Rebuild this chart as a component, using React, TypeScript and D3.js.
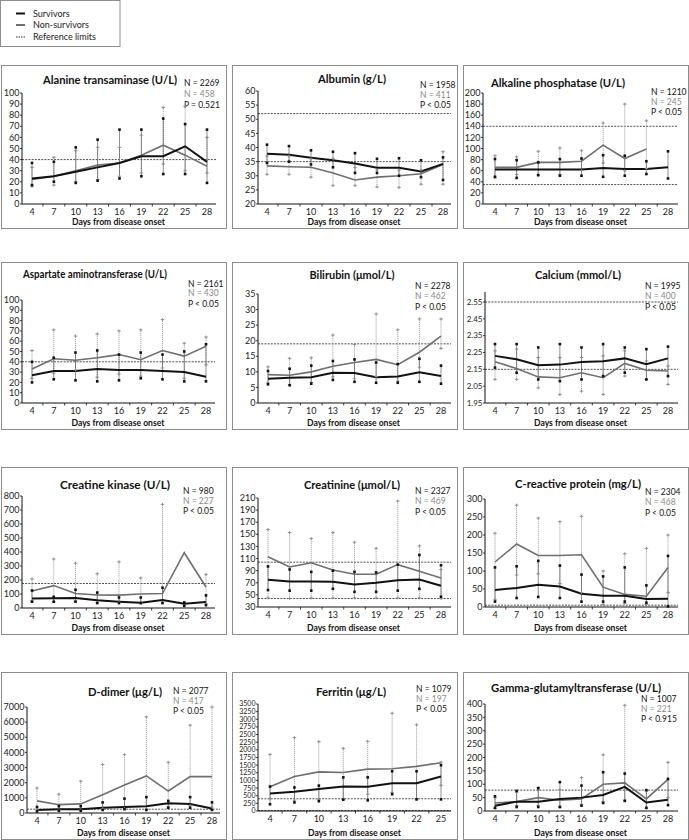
import React from 'react';
import * as d3 from 'd3';

// ---------------- data ----------------
const DAYS = [4, 7, 10, 13, 16, 19, 22, 25, 28];
const DAYS_FERRITIN = [4, 7, 10, 13, 16, 19, 22, 25];

const TITLES = [
  'Alanine transaminase (U/L)', 'Albumin (g/L)', 'Alkaline phosphatase (U/L)',
  'Aspartate aminotransferase (U/L)', 'Bilirubin (μmol/L)', 'Calcium (mmol/L)',
  'Creatine kinase (U/L)', 'Creatinine (μmol/L)', 'C-reactive protein (mg/L)',
  'D-dimer (μg/L)', 'Ferritin (μg/L)', 'Gamma-glutamyltransferase (U/L)',
];
const N_SURVIVORS = [2269, 1958, 1210, 2161, 2278, 1995, 980, 2327, 2304, 2077, 1079, 1007];
const N_NONSURVIVORS = [458, 411, 245, 430, 462, 400, 227, 469, 468, 417, 197, 221];
const P_LABELS = ['P = 0.521', 'P < 0.05', 'P < 0.05', 'P < 0.05', 'P < 0.05', 'P < 0.05',
  'P < 0.05', 'P < 0.05', 'P < 0.05', 'P < 0.05', 'P < 0.05', 'P < 0.915'];
const REFERENCE_LIMITS = [[40], [52, 35], [140, 35], [40], [19], [2.55, 2.15], [175], [104, 44], [5], [250], [400, 15], [78]];

const Y_TICKS = [
  [0, 10, 20, 30, 40, 50, 60, 70, 80, 90, 100],
  [20, 25, 30, 35, 40, 45, 50, 55, 60],
  [0, 20, 40, 60, 80, 100, 120, 140, 160, 180, 200],
  [0, 10, 20, 30, 40, 50, 60, 70, 80, 90, 100],
  [0, 5, 10, 15, 20, 25, 30, 35],
  [1.95, 2.05, 2.15, 2.25, 2.35, 2.45, 2.55],
  [0, 100, 200, 300, 400, 500, 600, 700, 800],
  [30, 50, 70, 90, 110, 130, 150, 170, 190, 210],
  [0, 50, 100, 150, 200, 250, 300],
  [0, 1000, 2000, 3000, 4000, 5000, 6000, 7000],
  [0, 250, 500, 750, 1000, 1250, 1500, 1750, 2000, 2250, 2500, 2750, 3000, 3250, 3500],
  [0, 50, 100, 150, 200, 250, 300, 350, 400],
];

// [median, lower, upper]
const alanineSurv = [[23, 17, 37], [25, 20, 38], [29, 19, 51], [33, 21, 58], [37, 23, 67], [43, 25, 67], [43, 27, 77], [52, 27, 72], [38, 19, 67]];
const alanineNon = [[22, 16, 33], [25, 17, 42], [30, 20, 48], [35, 22, 51], [37, 25, 51], [44, 28, 62], [53, 36, 87], [44, 30, 88], [34, 28, 60]];
const albuminSurv = [[37.8, 34.5, 41], [37.4, 35, 40.5], [36.4, 34, 39], [35.5, 33, 38.5], [34.3, 31, 38], [32.8, 31, 36], [32.8, 30, 36.2], [31.5, 29.5, 35.5], [34.2, 28.5, 36.5]];
const albuminNon = [[33.5, 30.5, 37], [33.2, 30.5, 37], [33, 29.5, 36], [31, 26.5, 36], [28.5, 26.5, 33], [29.5, 26, 32], [30, 25.8, 32], [30.7, 27, 32], [34, 27, 38.5]];
const alpSurv = [[62, 49, 81], [62, 47, 79], [62, 52, 75], [62, 51, 81], [62, 51, 82], [65, 49, 88], [63, 51, 87], [63, 54, 77], [66, 46, 95]];
const alpNon = [[66, 47, 87], [66, 53, 85], [75, 52, 95], [75, 53, 101], [77, 60, 96], [106, 74, 146], [82, 60, 180], [99, 64, 150], null];
const astSurv = [[27, 20, 40], [31, 23, 44], [31, 22, 49], [33, 21, 51], [32, 22, 47], [32, 24, 49], [31, 23, 47], [30, 21, 50], [25.5, 21, 57]];
const astNon = [[33, 24, 51], [43, 29, 71], [41.5, 32, 65], [44, 25, 67], [47, 28, 70], [42, 26, 71], [51, 34, 81], [45.5, 24, 58], [55, 37, 64]];
const bilirubinSurv = [[7.8, 6, 10.3], [8.1, 5.7, 11], [8.3, 6.2, 12], [9.7, 7.4, 13.5], [9.6, 6.8, 14], [8.3, 6.5, 13], [8.5, 6.5, 12.5], [9.9, 6.8, 14.2], [8.7, 6.2, 12]];
const bilirubinNon = [[9.1, 6.5, 11.6], [8.9, 5.8, 14.3], [10, 6.6, 14.5], [11.8, 8.4, 21.8], [13, 7.8, 18.8], [14, 8.5, 28.6], [12.3, 7, 23.5], [16.3, 11.5, 27], [21.5, 17.5, 27]];
const calciumSurv = [[2.23, 2.16, 2.3], [2.21, 2.13, 2.3], [2.175, 2.09, 2.28], [2.178, 2.08, 2.3], [2.193, 2.09, 2.28], [2.198, 2.11, 2.3], [2.215, 2.13, 2.28], [2.18, 2.09, 2.27], [2.215, 2.11, 2.285]];
const calciumNon = [[2.195, 2.09, 2.26], [2.155, 2.09, 2.27], [2.105, 2.04, 2.22], [2.1, 2.0, 2.22], [2.13, 2.02, 2.22], [2.1, 2.0, 2.23], [2.185, 2.11, 2.26], [2.145, 2.09, 2.2], [2.14, 2.06, 2.17]];
const ckSurv = [[68, 45, 125], [70, 45, 80], [72, 45, 130], [55, 35, 110], [45, 35, 75], [38, 35, 75], [57, 35, 145], [30, 15, 40], [42, 20, 90]];
const ckNon = [[122, 50, 208], [160, 45, 350], [103, 50, 320], [93, 40, 245], [92, 40, 330], [100, 40, 215], [103, 40, 740], [395, null, null], [150, 30, 240]];
const creatinineSurv = [[75, 58, 97], [72, 57, 92], [72, 57, 88], [71.5, 60, 90], [67, 55, 88], [70, 55, 87], [74, 57, 100], [75.5, 60, 116], [65, 47, 99]];
const creatinineNon = [[113, 45, 158], [96, 44, 153], [103, 45, 143], [91, 45, 153], [84, 45, 137], [84, 45, 127], [100, 45, 205], [89, 45, 131], [78, 44, 92]];
const crpSurv = [[47, 15, 110], [53, 25, 113], [62, 28, 128], [57, 25, 115], [37, 15, 90], [31, 15, 85], [31, 15, 110], [22, 12, 60], [23, 2, 142]];
const crpNon = [[125, 20, 205], [175, 89, 283], [143, 92, 247], [143, 65, 237], [145, 40, 252], [55, 7, 100], [35, 10, 148], [30, 7, 163], [110, 40, 200]];
const ddimerSurv = [[200, 100, 400], [250, 150, 450], [250, 150, 450], [350, 200, 700], [400, 250, 950], [450, 200, 1050], [650, 350, 800], [600, 350, 1050], [300, 200, 700]];
const ddimerNon = [[800, 200, 1650], [550, 200, 1250], [600, 200, 2100], [1200, 300, 3200], [1850, 300, 3850], [2450, 250, 6350], [1450, 400, 3350], [2400, 500, 5800], [2400, 400, 7000]];
const ferritinSurv = [[570, 220, 800], [630, 280, 770], [720, 320, 830], [800, 370, 1100], [790, 350, 1100], [910, 550, 1300], [910, 380, 1300], [1130, 380, 1500]];
const ferritinNon = [[790, 400, 1850], [1130, 350, 2400], [1280, 370, 2270], [1260, 380, 2050], [1370, 550, 2280], [1380, 600, 3200], [1460, 400, 2820], [1580, 840, 1600]];
const ggtSurv = [[20, 12, 55], [35, 15, 75], [35, 15, 85], [45, 15, 108], [50, 20, 95], [60, 30, 145], [90, 38, 140], [32, 12, 78], [42, 22, 120]];
const ggtNon = [[30, 10, 50], [35, 20, 70], [50, 20, 88], [40, 15, 80], [45, 25, 125], [100, 35, 210], [105, 40, 395], [45, 10, 75], [118, 50, 182]];

const SURVIVOR_SERIES = [alanineSurv, albuminSurv, alpSurv, astSurv, bilirubinSurv, calciumSurv, ckSurv, creatinineSurv, crpSurv, ddimerSurv, ferritinSurv, ggtSurv];
const NONSURVIVOR_SERIES = [alanineNon, albuminNon, alpNon, astNon, bilirubinNon, calciumNon, ckNon, creatinineNon, crpNon, ddimerNon, ferritinNon, ggtNon];

// ---------------- layout ----------------
const BOX_X = [1, 232, 463];
const BOX_W = 225;
const ROW_Y = [65, 262, 467, 672];
const ROW_H = [163, 167, 167, 167];

type Geom = {
  ax: number; x0: number; x1: number; xEnd: number; yLo: number; yHi: number; vTop?: number;
  tx: number; ty: number; tw: number; nx: number; ny: number[]; fs: number;
};
const GEOM: Geom[] = [
  { ax: 22, x0: 32, x1: 207, xEnd: 216, yLo: 204, yHi: 93, tx: 110, ty: 84, tw: 134, nx: 184, ny: [86, 96.5, 107.5], fs: 9 },
  { ax: 258, x0: 267, x1: 443, xEnd: 451, yLo: 204, yHi: 91, tx: 352, ty: 83, tw: 68, nx: 420, ny: [87.5, 97.5, 108], fs: 9 },
  { ax: 483, x0: 495, x1: 668, xEnd: 678, yLo: 204, yHi: 93, tx: 558, ty: 86.5, tw: 134, nx: 651, ny: [94.5, 105, 115], fs: 9 },
  { ax: 22, x0: 32, x1: 206, xEnd: 215, yLo: 403, yHi: 300, tx: 95, ty: 278, tw: 144, nx: 188, ny: [286.5, 296, 306.5], fs: 9 },
  { ax: 258, x0: 268, x1: 441, xEnd: 451, yLo: 403, yHi: 294, tx: 352, ty: 279, tw: 85, nx: 415, ny: [288.5, 299, 310], fs: 9 },
  { ax: 485, x0: 495, x1: 668, xEnd: 678, yLo: 403, yHi: 302, vTop: 2.61, tx: 578, ty: 279, tw: 86, nx: 645, ny: [288.5, 299, 310], fs: 8 },
  { ax: 22, x0: 32, x1: 206, xEnd: 215, yLo: 608, yHi: 496, tx: 115, ty: 489, tw: 110, nx: 183, ny: [493.5, 503.5, 514], fs: 9 },
  { ax: 258, x0: 268, x1: 441, xEnd: 451, yLo: 607, yHi: 498, tx: 352, ty: 489, tw: 96, nx: 415, ny: [493.5, 503.5, 514.5], fs: 9 },
  { ax: 485, x0: 495, x1: 668, xEnd: 678, yLo: 607, yHi: 499, tx: 578, ty: 488, tw: 126, nx: 645, ny: [494.5, 505, 515.5], fs: 9 },
  { ax: 27, x0: 37, x1: 212, xEnd: 220, yLo: 813, yHi: 707, tx: 125, ty: 696, tw: 74, nx: 173, ny: [693.5, 703.5, 713.5], fs: 9 },
  { ax: 258, x0: 270, x1: 441, xEnd: 451, yLo: 811, yHi: 704, tx: 351, ty: 696, tw: 70, nx: 416, ny: [691.5, 701.5, 711.5], fs: 7 },
  { ax: 485, x0: 495, x1: 668, xEnd: 678, yLo: 811, yHi: 704, tx: 576, ty: 691.5, tw: 170, nx: 641, ny: [701.5, 711.5, 721.5], fs: 9 },
];

const FONT = "Lato, 'Noto Sans', sans-serif";
const BLACK = '#111';
const GRAY_LINE = '#6f6f6f';
const GRAY_BAR = '#a8a8a8';
const GRAY_TEXT = '#8a8a8a';

type Pt = (number | null)[] | null;

function fmt(v: number, i: number) {
  if (i === 5) return v.toFixed(2);
  return String(v);
}

function Panel({ i }: { i: number }) {
  const g = GEOM[i];
  const col = i % 3;
  const row = Math.floor(i / 3);
  const bx = BOX_X[col];
  const by = ROW_Y[row];
  const bh = ROW_H[row];
  const days = i === 10 ? DAYS_FERRITIN : DAYS;
  const ticks = Y_TICKS[i];
  const vLo = ticks[0];
  const vHi = ticks[ticks.length - 1];
  const x = d3.scaleLinear().domain([days[0], days[days.length - 1]]).range([g.x0, g.x1]);
  const y = d3.scaleLinear().domain([vLo, vHi]).range([g.yLo, g.yHi]);
  const vTop = g.vTop ?? vHi;
  const surv = SURVIVOR_SERIES[i] as Pt[];
  const non = NONSURVIVOR_SERIES[i] as Pt[];

  const line = d3.line<[number, Pt]>()
    .defined((d) => d[1] != null)
    .x((d) => x(d[0]))
    .y((d) => y((d[1] as number[])[0]));
  const pairs = (s: Pt[]) => days.map((d, k) => [d, s[k]] as [number, Pt]);

  const minor = days.slice(0, -1).map((d) => d + 1.5);
  const midX = (g.x0 + g.x1) / 2 - 1;

  return (
    <g>
      <rect x={bx + 0.5} y={by + 0.5} width={BOX_W} height={bh} fill="#fff" stroke="#8c8c8c" strokeWidth={1} />
      <text x={g.tx} y={g.ty} textAnchor="middle" fontSize={11} fontWeight={700} fill={BLACK}
        textLength={g.tw} lengthAdjust="spacingAndGlyphs">{TITLES[i]}</text>
      <text x={g.nx} y={g.ny[0]} fontSize={8.5} fill={BLACK}>{`N = ${N_SURVIVORS[i]}`}</text>
      <text x={g.nx} y={g.ny[1]} fontSize={8.5} fill={GRAY_TEXT}>{`N = ${N_NONSURVIVORS[i]}`}</text>
      <text x={g.nx} y={g.ny[2]} fontSize={8.5} fill={BLACK}>{P_LABELS[i]}</text>

      {/* reference limits */}
      {REFERENCE_LIMITS[i].map((r, k) => (
        <line key={k} x1={g.ax} x2={g.xEnd} y1={y(r)} y2={y(r)} stroke="#222" strokeWidth={0.8} strokeDasharray="2,1.2" />
      ))}

      {/* axes */}
      <line x1={g.ax} x2={g.ax} y1={y(vTop)} y2={g.yLo} stroke={BLACK} strokeWidth={1} />
      <line x1={g.ax} x2={g.xEnd} y1={g.yLo} y2={g.yLo} stroke={BLACK} strokeWidth={1} />
      {ticks.map((t) => (
        <g key={t}>
          <line x1={g.ax - 2} x2={g.ax} y1={y(t)} y2={y(t)} stroke={BLACK} strokeWidth={0.8} />
          <text x={g.ax - 2.5} y={y(t)} dy="0.35em" textAnchor="end" fontSize={g.fs} fill="#222">{fmt(t, i)}</text>
        </g>
      ))}
      {minor.map((d) => (
        <line key={d} x1={x(d)} x2={x(d)} y1={g.yLo} y2={g.yLo + 2.5} stroke={BLACK} strokeWidth={0.8} />
      ))}
      {days.map((d) => (
        <text key={d} x={x(d)} y={g.yLo + 10.5} textAnchor="middle" fontSize={9} fill="#222">{d}</text>
      ))}
      <text x={midX} y={by + bh - 3.5} textAnchor="middle" fontSize={9.5} fontWeight={700} fill={BLACK}
        textLength={93} lengthAdjust="spacingAndGlyphs">Days from disease onset</text>

      {/* error bars */}
      {days.map((d, k) => {
        const p = non[k];
        if (!p || p[1] == null || p[2] == null) return null;
        return (
          <line key={'nb' + d} x1={x(d)} x2={x(d)} y1={y(p[1] as number)} y2={y(p[2] as number)}
            stroke={GRAY_BAR} strokeWidth={1} strokeDasharray="1.2,0.8" />
        );
      })}
      {days.map((d, k) => {
        const p = surv[k];
        if (!p || p[1] == null || p[2] == null) return null;
        return (
          <line key={'sb' + d} x1={x(d)} x2={x(d)} y1={y(p[1] as number)} y2={y(p[2] as number)}
            stroke="#444" strokeWidth={0.6} />
        );
      })}

      <path d={line(pairs(non)) || ''} fill="none" stroke={GRAY_LINE} strokeWidth={1.6} />
      <path d={line(pairs(surv)) || ''} fill="none" stroke={BLACK} strokeWidth={2} />

      {/* caps */}
      {days.map((d, k) => {
        const p = non[k];
        if (!p || p[1] == null || p[2] == null) return null;
        return (
          <g key={'nc' + d} stroke="#8a8a8a" strokeWidth={0.9}>
            {[p[1] as number, p[2] as number].map((v, j) => (
              <g key={j}>
                <line x1={x(d) - 1.8} x2={x(d) + 1.8} y1={y(v)} y2={y(v)} />
                <line x1={x(d)} x2={x(d)} y1={y(v) - 1.5} y2={y(v) + 1.5} />
              </g>
            ))}
          </g>
        );
      })}
      {days.map((d, k) => {
        const p = surv[k];
        if (!p || p[1] == null || p[2] == null) return null;
        return (
          <g key={'sc' + d} fill={BLACK}>
            {[p[1] as number, p[2] as number].map((v, j) => (
              <rect key={j} x={x(d) - 1.3} y={y(v) - 1.3} width={2.6} height={2.6} />
            ))}
          </g>
        );
      })}
    </g>
  );
}

function Legend() {
  const items = [
    { label: 'Survivors', color: BLACK, w: 2, dash: undefined as string | undefined, y: 13.5 },
    { label: 'Non-survivors', color: GRAY_LINE, w: 2, dash: undefined, y: 25 },
    { label: 'Reference limits', color: '#222', w: 0.9, dash: '1.5,1', y: 37 },
  ];
  return (
    <g>
      <rect x={0.5} y={0.5} width={119.5} height={46} fill="#fff" stroke="#8c8c8c" />
      {items.map((it) => (
        <g key={it.label}>
          <line x1={16} x2={25} y1={it.y} y2={it.y} stroke={it.color} strokeWidth={it.w} strokeDasharray={it.dash} />
          <text x={33} y={it.y + 3} fontSize={9} fill="#222">{it.label}</text>
        </g>
      ))}
    </g>
  );
}

export default function App() {
  return (
    <svg width={689} height={840} style={{ position: 'absolute', left: 0, top: 0, display: 'block' }} fontFamily={FONT}>
      <rect x={0} y={0} width={689} height={840} fill="#fff" />
      <Legend />
      {TITLES.map((_, i) => <Panel key={i} i={i} />)}
    </svg>
  );
}
